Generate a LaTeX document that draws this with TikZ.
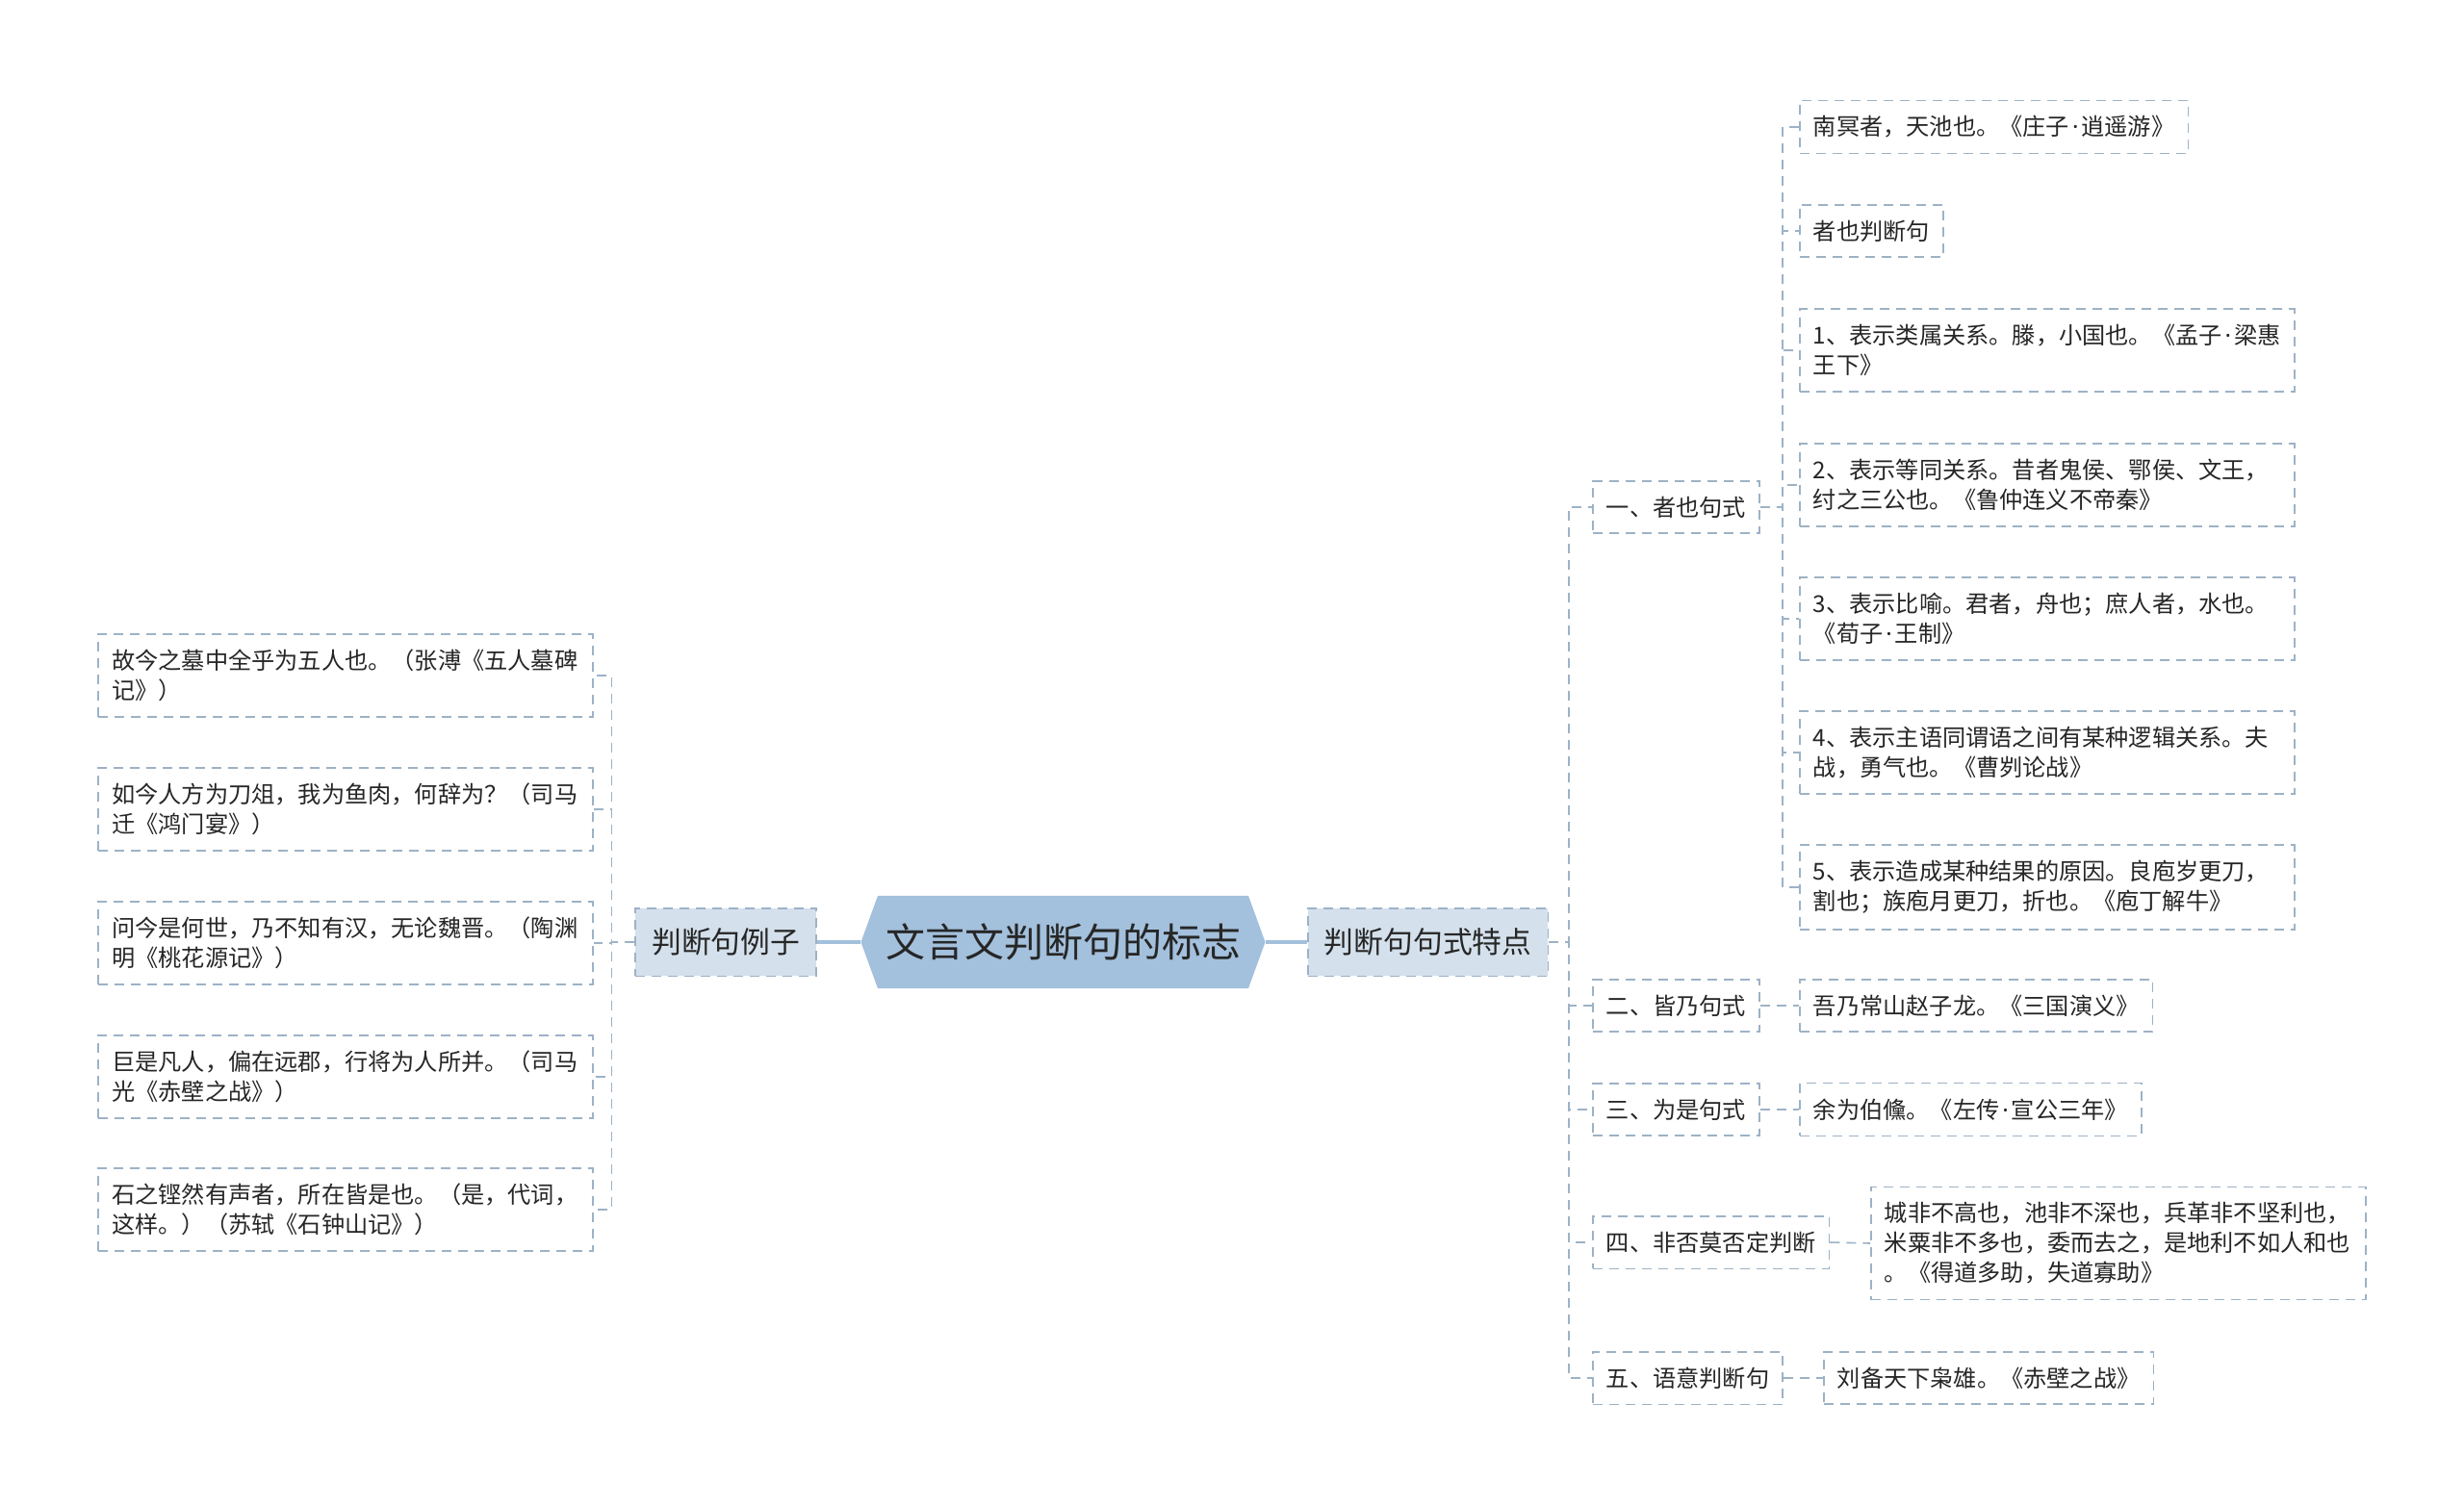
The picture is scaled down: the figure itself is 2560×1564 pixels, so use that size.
\documentclass[tikz,border=0pt]{standalone}
\usepackage{fontspec}
\setmainfont{Noto Sans CJK SC}
\newfontfamily\latinfont{Noto Sans}
\newcommand{\sepdot}{\kern1.5pt{\latinfont ·}\kern1.5pt}
\usepackage{tikz}
\usetikzlibrary{shapes.symbols}
\definecolor{topfill}{HTML}{A3C0DC}
\definecolor{subfill}{HTML}{D4E0EB}
\definecolor{edgeblue}{HTML}{9DB2C6}
\definecolor{inkgray}{HTML}{262626}

\begin{document}
\begin{tikzpicture}[x=0.5pt,y=-0.5pt,
  leaf/.style={draw=edgeblue, line width=0.8pt, dash pattern=on 5pt off 3.5pt, fill=white, inner xsep=7pt, inner ysep=8pt, text=inkgray, font=\fontsize{12.1pt}{15.5pt}\selectfont, align=left},
  wide/.style={leaf, text width=243pt},
  branch/.style={leaf, fill=subfill, inner xsep=8.5pt, inner ysep=10.5pt, font=\fontsize{15.4pt}{18pt}\selectfont},
  link/.style={draw=edgeblue, line width=0.8pt, dash pattern=on 5pt off 3.5pt},
  trunk/.style={draw=topfill, line width=1.6pt}]
\fill[white] (0,0) rectangle (2560,1564);
\useasboundingbox (0,0) rectangle (2560,1564);

\node[signal, signal to=east and west, signal pointer angle=140, fill=topfill, inner xsep=4pt, inner ysep=14.5pt, text=inkgray, font=\fontsize{20.5pt}{24pt}\selectfont] (root) at (1104.5,979) {文言文判断句的标志};
\node[branch, anchor=east] (lc) at (849,979) {判断句例子};
\node[branch, anchor=west] (rc) at (1358,979) {判断句句式特点};

\node[wide, anchor=east] (e1) at (617,702) {故今之墓中全乎为五人也。（张溥《五人墓碑\\记》）};
\node[wide, anchor=east] (e2) at (617,841) {如今人方为刀俎，我为鱼肉，何辞为？（司马\\迁《鸿门宴》）};
\node[wide, anchor=east] (e3) at (617,980) {问今是何世，乃不知有汉，无论魏晋。（陶渊\\明《桃花源记》）};
\node[wide, anchor=east] (e4) at (617,1119) {巨是凡人，偏在远郡，行将为人所并。（司马\\光《赤壁之战》）};
\node[wide, anchor=east] (e5) at (617,1257) {石之铿然有声者，所在皆是也。（是，代词，\\这样。）（苏轼《石钟山记》）};

\node[leaf, anchor=west] (k1) at (1654,527) {一、者也句式};
\node[leaf, anchor=west] (k2) at (1654,1045) {二、皆乃句式};
\node[leaf, anchor=west] (k3) at (1654,1153) {三、为是句式};
\node[leaf, anchor=west] (k4) at (1654,1291) {四、非否莫否定判断};
\node[leaf, anchor=west] (k5) at (1654,1432) {五、语意判断句};

\node[leaf, anchor=west] (z1) at (1869,132) {南冥者，天池也。《庄子\sepdot 逍遥游》};
\node[leaf, anchor=west] (z2) at (1869,240) {者也判断句};
\node[wide, anchor=west] (z3) at (1869,364) {1、表示类属关系。滕，小国也。《孟子\sepdot 梁惠\\王下》};
\node[wide, anchor=west] (z4) at (1869,504) {2、表示等同关系。昔者鬼侯、鄂侯、文王，\\纣之三公也。《鲁仲连义不帝秦》};
\node[wide, anchor=west] (z5) at (1869,643) {3、表示比喻。君者，舟也；庶人者，水也。\\《荀子\sepdot 王制》};
\node[wide, anchor=west] (z6) at (1869,782) {4、表示主语同谓语之间有某种逻辑关系。夫\\战，勇气也。《曹刿论战》};
\node[wide, anchor=west] (z7) at (1869,922) {5、表示造成某种结果的原因。良庖岁更刀，\\割也；族庖月更刀，折也。《庖丁解牛》};

\node[leaf, anchor=west] (g2) at (1869,1045) {吾乃常山赵子龙。《三国演义》};
\node[leaf, anchor=west] (g3) at (1869,1153) {余为伯儵。《左传\sepdot 宣公三年》};
\node[wide, anchor=west] (g4) at (1943,1292) {城非不高也，池非不深也，兵革非不坚利也，\\米粟非不多也，委而去之，是地利不如人和也\\。《得道多助，失道寡助》};
\node[leaf, anchor=west] (g5) at (1894,1432) {刘备天下枭雄。《赤壁之战》};

\draw[trunk] (root.west) -- (lc.east);
\draw[trunk] (root.east) -- (rc.west);
\foreach \e in {e1,e2,e3,e4,e5}
  \draw[link] (lc.west) -- ++(-24,0) |- (\e.east);
\foreach \k in {k1,k2,k3,k4,k5}
  \draw[link] (rc.east) -- ++(21,0) |- (\k.west);
\foreach \z in {z1,z2,z3,z4,z5,z6,z7}
  \draw[link] (k1.east) -- ++(23,0) |- (\z.west);
\draw[link] (k2.east) -- (g2.west);
\draw[link] (k3.east) -- (g3.west);
\draw[link] (k4.east) -- (g4.west);
\draw[link] (k5.east) -- (g5.west);
\end{tikzpicture}
\end{document}
